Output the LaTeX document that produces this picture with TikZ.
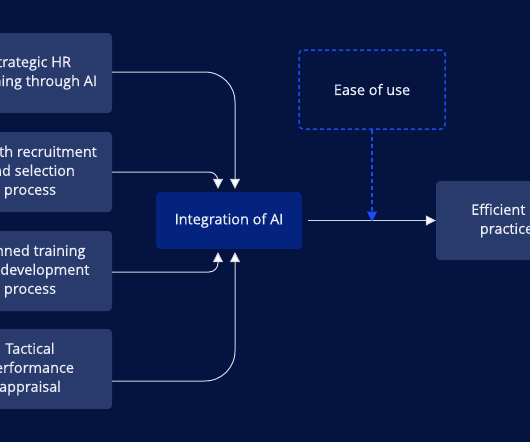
\documentclass[tikz,border=0pt]{standalone}
\usepackage{fontspec}
\setmainfont{Open Sans}[FakeBold=0.5]
\usetikzlibrary{arrows.meta,calc}
\definecolor{bgc}{HTML}{04133F}
\definecolor{boxc}{HTML}{293A6D}
\definecolor{intc}{HTML}{03237F}
\definecolor{dashc}{HTML}{1A4BF0}
\definecolor{linec}{HTML}{D4D8E4}
\definecolor{txtc}{HTML}{EDEFF6}
\tikzset{
  base/.style={rounded corners=4pt, align=center, text=txtc, inner sep=0pt,
    font=\fontsize{14.5}{19}\selectfont},
  sidebox/.style={base, fill=boxc, minimum width=164pt, minimum height=80pt},
  intbox/.style={base, fill=intc, minimum width=146pt, minimum height=57pt},
  easebox/.style={base, draw=dashc, line width=1.5pt, dash pattern=on 4pt off 3pt,
    minimum width=146pt, minimum height=79pt},
  effbox/.style={base, fill=boxc, minimum width=148pt, minimum height=79pt},
  conn/.style={draw=linec, line width=1pt, -{Triangle[width=10pt,length=10pt,fill=white]}},
  dconn/.style={draw=dashc, line width=1.5pt, dash pattern=on 4pt off 3pt,
    -{Triangle[width=10pt,length=10pt,fill=dashc,sep=-1pt]}}
}
\begin{document}
\begin{tikzpicture}[x=1pt,y=-1pt]
\useasboundingbox (0,0) rectangle (530,442);
\fill[bgc] (0,0) rectangle (530,442);
\clip (0,0) rectangle (530,442);
\node[sidebox] (b1) at (30,73) {Strategic HR\\planning through AI};
\node[sidebox] (b2) at (30,172) {Growth recruitment\\and selection\\process};
\node[sidebox] (b3) at (30,271) {Planned training\\and development\\process};
\node[sidebox] (b4) at (30,369) {Tactical\\performance\\appraisal};
\node[intbox] (int) at (229,220.5) {Integration of AI};
\node[easebox] (ease) at (372,89.5) {Ease of use};
\node[effbox] (eff) at (510,220.5) {Efficient HR\\practices};
\coordinate (t1) at ($(int.north)+(6,-3)$);
\coordinate (t2) at ($(int.north)+(-11,-3)$);
\coordinate (s1) at ($(int.south)+(-11,3)$);
\coordinate (s2) at ($(int.south)+(6,3)$);
\draw[conn, rounded corners=30pt] ([yshift=1pt]b1.east) -| (t1);
\draw[conn, rounded corners=9pt] (b2.east) -| (t2);
\draw[conn, rounded corners=9pt] ([yshift=-1pt]b3.east) -| (s1);
\draw[conn, rounded corners=30pt] ([yshift=-12pt]b4.east) -| (s2);
\draw[conn, shorten <=6pt] (int.east) -- (eff.west);
\draw[dconn] (ease.south) -- (ease.south |- int.east);
\end{tikzpicture}
\end{document}
